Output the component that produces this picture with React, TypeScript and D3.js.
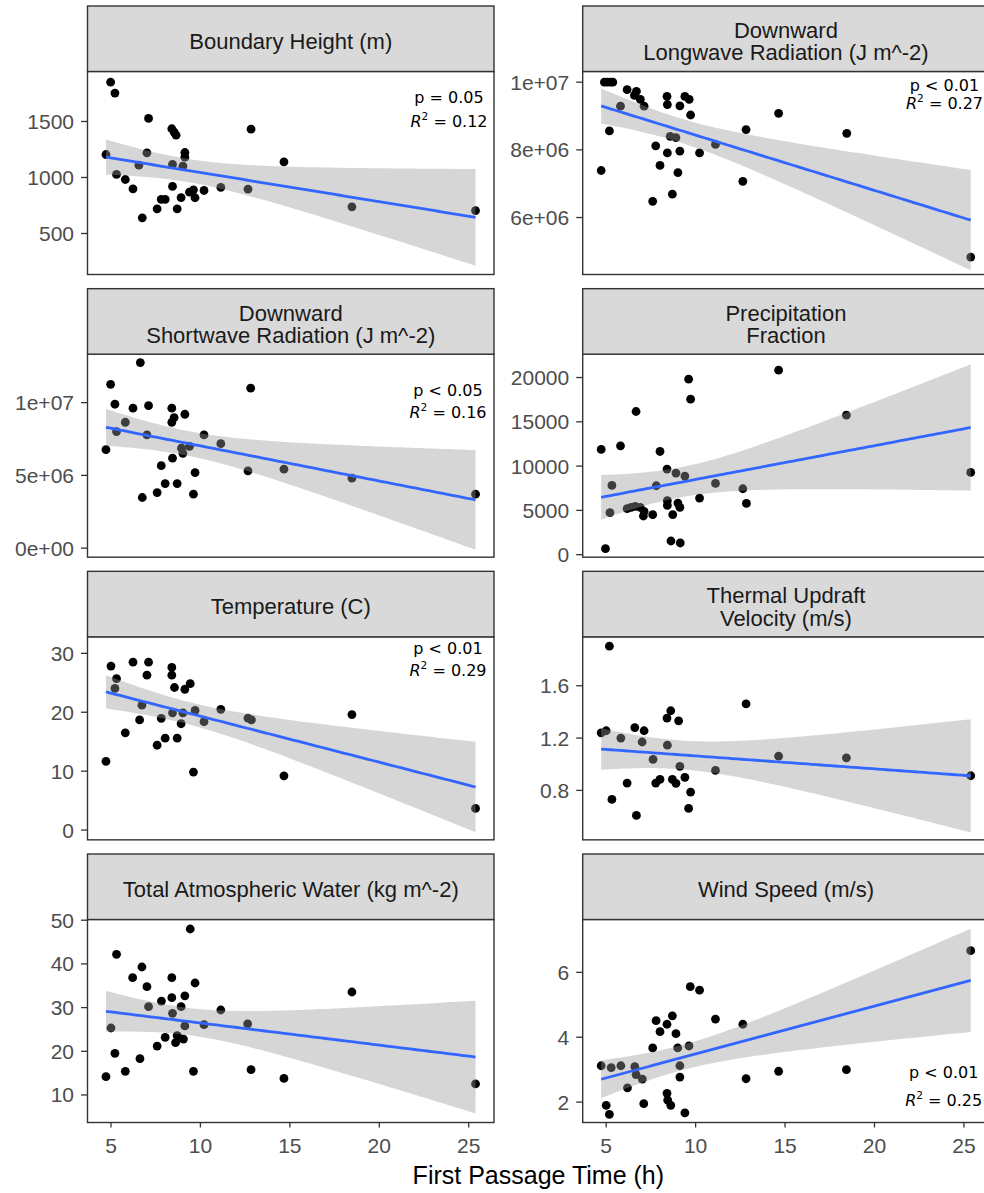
import React from "react";
import * as d3 from "d3";

type Pt = [number, number];

// First passage time (h) paired with each environmental covariate
const boundaryHeight: Pt[] = [
  [4.72, 1205], [4.98, 1851], [5.22, 1753], [5.31, 1027], [5.8, 982], [6.23, 899],
  [6.56, 1110], [6.75, 640], [7.01, 1220], [7.1, 1527], [7.58, 720], [7.81, 804],
  [8.03, 804], [8.4, 1435], [8.53, 1405], [8.64, 1378], [8.44, 1116], [8.44, 920],
  [8.7, 720], [8.92, 821], [9.02, 1101], [9.13, 1223], [9.13, 1181], [9.39, 869],
  [9.61, 890], [9.7, 819], [10.2, 884], [11.14, 911], [12.66, 896], [12.83, 1431],
  [14.67, 1140], [18.47, 738], [25.38, 705],
];

const longwave: Pt[] = [
  [4.72, 7.39e6], [4.9, 1.0e7], [5.07, 1.0e7], [5.24, 1.0e7], [5.37, 1.0e7], [5.18, 8.56e6],
  [5.8, 9.29e6], [6.17, 9.78e6], [6.58, 9.61e6], [6.69, 9.73e6], [6.91, 9.49e6], [7.12, 9.29e6],
  [7.6, 6.48e6], [7.77, 8.12e6], [8.01, 7.54e6], [8.4, 9.58e6], [8.42, 9.34e6], [8.42, 7.91e6],
  [8.58, 8.4e6], [8.7, 6.69e6], [8.9, 8.36e6], [9.01, 7.33e6], [9.12, 9.3e6], [9.12, 7.96e6],
  [9.4, 9.58e6], [9.64, 9.49e6], [9.72, 9.03e6], [10.22, 7.91e6], [11.11, 8.16e6],
  [12.64, 7.07e6], [12.82, 8.6e6], [14.64, 9.08e6], [18.45, 8.49e6], [25.38, 4.83e6],
];

const shortwave: Pt[] = [
  [4.72, 6.77e6], [4.98, 1.126e7], [5.22, 9.89e6], [5.31, 8.01e6], [5.8, 8.65e6], [6.23, 9.62e6],
  [6.64, 1.275e7], [6.75, 3.48e6], [7.01, 7.78e6], [7.1, 9.79e6], [7.58, 3.82e6], [7.81, 5.67e6],
  [8.03, 4.44e6], [8.4, 9.62e6], [8.4, 8.65e6], [8.53, 8.97e6], [8.44, 6.18e6], [8.7, 4.44e6],
  [8.94, 6.87e6], [9.02, 6.52e6], [9.13, 9.2e6], [9.39, 7.0e6], [9.61, 3.71e6], [9.7, 5.19e6],
  [10.2, 7.78e6], [11.14, 7.18e6], [12.66, 5.31e6], [12.81, 1.099e7], [14.67, 5.43e6],
  [18.47, 4.81e6], [25.38, 3.71e6],
];

const precipitation: Pt[] = [
  [4.72, 11877], [4.96, 677], [5.21, 4737], [5.32, 7816], [5.8, 12294], [6.17, 5188],
  [6.39, 5335], [6.67, 16164], [6.62, 5448], [6.9, 5335], [7.08, 4365], [7.12, 4884],
  [7.6, 4512], [7.8, 7782], [8.01, 11651], [8.4, 9666], [8.42, 6091], [8.42, 5561],
  [8.62, 1545], [8.72, 4512], [8.9, 9215], [9.01, 5831], [9.12, 5335], [9.14, 1320],
  [9.4, 8877], [9.61, 19817], [9.72, 17561], [10.22, 6395], [11.11, 8042], [12.64, 7444],
  [12.84, 5786], [14.64, 20833], [18.43, 15757], [25.38, 9283],
];

const temperature: Pt[] = [
  [4.72, 11.66], [5.0, 27.84], [5.22, 24.05], [5.31, 25.7], [5.8, 16.5], [6.23, 28.5],
  [6.6, 18.7], [6.73, 21.2], [7.01, 26.3], [7.1, 28.5], [7.58, 14.4], [7.81, 18.96],
  [8.03, 15.6], [8.4, 27.6], [8.4, 26.3], [8.44, 19.9], [8.55, 24.2], [8.7, 15.6],
  [8.92, 18.05], [9.02, 19.9], [9.13, 23.9], [9.43, 24.85], [9.61, 9.85], [9.7, 20.3],
  [10.2, 18.4], [11.14, 20.5], [12.66, 19.0], [12.85, 18.7], [14.67, 9.2], [18.47, 19.6],
  [25.38, 3.68],
];

const thermalUpdraft: Pt[] = [
  [4.72, 1.24], [5.0, 1.256], [5.18, 1.903], [5.32, 0.731], [5.82, 1.2], [6.17, 0.856],
  [6.6, 1.28], [6.69, 0.609], [7.01, 1.17], [7.12, 1.256], [7.62, 1.037], [7.77, 0.856],
  [8.01, 0.884], [8.4, 1.353], [8.42, 1.146], [8.61, 1.409], [8.7, 0.884], [8.9, 0.854],
  [9.05, 1.332], [9.12, 0.984], [9.4, 0.9], [9.61, 0.662], [9.72, 0.787], [11.11, 0.953],
  [12.82, 1.462], [14.64, 1.062], [18.43, 1.049], [25.38, 0.912],
];

const totalWater: Pt[] = [
  [4.72, 14.19], [5.0, 25.33], [5.22, 19.54], [5.31, 42.2], [5.8, 15.42], [6.21, 36.84],
  [6.62, 18.3], [6.73, 39.29], [7.01, 34.78], [7.1, 30.2], [7.58, 21.2], [7.82, 31.5],
  [8.03, 23.2], [8.4, 36.84], [8.4, 32.27], [8.44, 28.7], [8.61, 21.97], [8.7, 23.57],
  [8.79, 23.1], [8.92, 30.2], [9.05, 22.8], [9.13, 32.7], [9.13, 25.8], [9.43, 47.99],
  [9.61, 15.42], [9.7, 35.63], [10.2, 26.1], [11.14, 29.45], [12.64, 26.25], [12.83, 15.8],
  [14.67, 13.8], [18.47, 33.57], [25.38, 12.52],
];

const windSpeed: Pt[] = [
  [4.72, 3.12], [5.0, 1.9], [5.18, 1.62], [5.28, 3.06], [5.82, 3.12], [6.19, 2.44],
  [6.6, 3.09], [6.67, 2.85], [7.02, 2.71], [7.1, 1.95], [7.6, 3.67], [7.79, 4.51],
  [8.01, 4.17], [8.4, 4.4], [8.4, 2.27], [8.44, 2.06], [8.61, 1.9], [8.7, 4.66],
  [8.9, 4.11], [9.0, 3.67], [9.12, 3.12], [9.12, 2.77], [9.4, 1.67], [9.63, 3.73],
  [9.7, 5.56], [10.22, 5.45], [11.11, 4.56], [12.64, 4.4], [12.82, 2.72], [14.64, 2.95],
  [18.43, 3.0], [25.38, 6.67],
];

const facetTitles: string[][] = [
  ["Boundary Height (m)"],
  ["Downward", "Longwave Radiation (J m^-2)"],
  ["Downward", "Shortwave Radiation (J m^-2)"],
  ["Precipitation", "Fraction"],
  ["Temperature (C)"],
  ["Thermal Updraft", "Velocity (m/s)"],
  ["Total Atmospheric Water (kg m^-2)"],
  ["Wind Speed (m/s)"],
];

const facetData: Pt[][] = [
  boundaryHeight, longwave, shortwave, precipitation,
  temperature, thermalUpdraft, totalWater, windSpeed,
];

// free y scale limits of each facet
const yLimits: [number, number][] = [
  [134, 1946],
  [4.316e6, 1.0316e7],
  [-6.2e5, 1.333e7],
  [-282, 22637],
  [-1.66, 32.8],
  [0.422, 1.974],
  [3.7, 50.16],
  [1.37, 7.63],
];

const yTickValues: number[][] = [
  [500, 1000, 1500],
  [6e6, 8e6, 1e7],
  [0, 5e6, 1e7],
  [0, 5000, 10000, 15000, 20000],
  [0, 10, 20, 30],
  [0.8, 1.2, 1.6],
  [10, 20, 30, 40, 50],
  [2, 4, 6],
];

const yTickLabels: string[][] = [
  ["500", "1000", "1500"],
  ["6e+06", "8e+06", "1e+07"],
  ["0e+00", "5e+06", "1e+07"],
  ["0", "5000", "10000", "15000", "20000"],
  ["0", "10", "20", "30"],
  ["0.8", "1.2", "1.6"],
  ["10", "20", "30", "40", "50"],
  ["2", "4", "6"],
];

const xTickValues = [5, 10, 15, 20, 25];

const pLabels: (string | null)[] = [
  "p = 0.05", "p < 0.01", "p < 0.05", null, "p < 0.01", null, null, "p < 0.01",
];
const r2Labels: (string | null)[] = [
  "0.12", "0.27", "0.16", null, "0.29", null, null, "0.25",
];

// Placement of the p / R² label inside each panel: centre x, first and second baseline
const statPlacement: ([number, number, number] | null)[] = [
  [361.5, 31.8, 55.2],
  [361.8, 19.2, 37.8],
  [360.5, 41.8, 63.5],
  null,
  [360.5, 17.5, 39.2],
  null,
  null,
  [361, 158.8, 186.5],
];

// ---- layout ----
const W = 984;
const H = 1193;
const colLeft = [87.5, 582.7];
const panelW = 406.5;
const rowTop0 = 6;
const rowPitch = 282.67;
const stripH = 65.5;
const panelH = 203;

const SANS = "'Liberation Sans', Arial, sans-serif";
const ANNOT = "'DejaVu Sans', sans-serif";

// Student t quantile via Cornish-Fisher expansion around the normal quantile
function tQuantile(p: number, df: number): number {
  const z = -Math.SQRT2 * inverseErfc(2 * p);
  const z3 = z ** 3, z5 = z ** 5, z7 = z ** 7;
  return (
    z +
    (z3 + z) / (4 * df) +
    (5 * z5 + 16 * z3 + 3 * z) / (96 * df * df) +
    (3 * z7 + 19 * z5 + 17 * z3 - 15 * z) / (384 * df ** 3)
  );
}

function inverseErfc(p: number): number {
  if (p >= 2) return -100;
  if (p <= 0) return 100;
  const pp = p < 1 ? p : 2 - p;
  const t = Math.sqrt(-2 * Math.log(pp / 2));
  let x = -0.70711 * ((2.30753 + t * 0.27061) / (1 + t * (0.99229 + t * 0.04481)) - t);
  for (let j = 0; j < 2; j++) {
    const err = erfc(x) - pp;
    x += err / (1.1283791670955126 * Math.exp(-x * x) - x * err);
  }
  return p < 1 ? x : -x;
}

function erfc(x: number): number {
  const z = Math.abs(x);
  const t = 2 / (2 + z);
  const ty = 4 * t - 2;
  const cof = [
    -1.3026537197817094, 6.4196979235649026e-1, 1.9476473204185836e-2,
    -9.561514786808631e-3, -9.46595344482036e-4, 3.66839497852761e-4,
    4.2523324806907e-5, -2.0278578112534e-5, -1.624290004647e-6,
    1.30365583558e-6, 1.5626441722e-8, -8.5238095915e-8, 6.529054439e-9,
    5.059343495e-9, -9.91364156e-10, -2.27365122e-10, 9.6467911e-11,
    2.394038e-12, -6.886027e-12, 8.94487e-13, 3.13092e-13, -1.12708e-13,
    3.81e-16, 7.106e-15, -1.523e-15, -9.4e-17, 1.21e-16, -2.8e-17,
  ];
  let d = 0, dd = 0;
  for (let j = cof.length - 1; j > 0; j--) {
    const tmp = d;
    d = ty * d - dd + cof[j];
    dd = tmp;
  }
  const res = t * Math.exp(-z * z + 0.5 * (cof[0] + ty * d) - dd);
  return x >= 0 ? res : 2 - res;
}

interface FitRow { x: number; y: number; lo: number; hi: number }

// ordinary least squares with 95% confidence band for the mean
function linearFit(points: Pt[]): FitRow[] {
  const n = points.length;
  const xm = d3.mean(points, (d) => d[0]) as number;
  const ym = d3.mean(points, (d) => d[1]) as number;
  let sxx = 0, sxy = 0;
  for (const [x, y] of points) {
    sxx += (x - xm) ** 2;
    sxy += (x - xm) * (y - ym);
  }
  const slope = sxy / sxx;
  const intercept = ym - slope * xm;
  let sse = 0;
  for (const [x, y] of points) sse += (y - (intercept + slope * x)) ** 2;
  const s = Math.sqrt(sse / (n - 2));
  const t = tQuantile(0.975, n - 2);
  const [x0, x1] = d3.extent(points, (d) => d[0]) as [number, number];
  return d3.range(80).map((i) => {
    const x = x0 + ((x1 - x0) * i) / 79;
    const y = intercept + slope * x;
    const se = s * Math.sqrt(1 / n + (x - xm) ** 2 / sxx);
    return { x, y, lo: y - t * se, hi: y + t * se };
  });
}

function expand([a, b]: [number, number], f = 0.05): [number, number] {
  const r = b - a;
  return [a - r * f, b + r * f];
}

const allX = facetData.flat().map((d) => d[0]);
const xDomain = expand(d3.extent(allX) as [number, number]);

function Facet({ index }: { index: number }) {
  const col = index % 2;
  const row = Math.floor(index / 2);
  const left = colLeft[col];
  const stripTop = rowTop0 + row * rowPitch;
  const top = stripTop + stripH;
  const points = facetData[index];
  const fit = linearFit(points);

  const x = d3.scaleLinear().domain(xDomain).range([left, left + panelW]);
  const y = d3.scaleLinear().domain(yLimits[index]).range([top + panelH, top]);

  const ribbon = d3
    .area<FitRow>()
    .x((d) => x(d.x))
    .y0((d) => y(d.lo))
    .y1((d) => y(d.hi))(fit) as string;
  const line = d3
    .line<FitRow>()
    .x((d) => x(d.x))
    .y((d) => y(d.y))(fit) as string;

  const title = facetTitles[index];
  const stripMid = stripTop + stripH / 2 + 10.3;
  const bottomRow = row === 3;
  const place = statPlacement[index];
  const clipId = `panel-clip-${index}`;

  return (
    <g>
      <defs>
        <clipPath id={clipId}>
          <rect x={left} y={top} width={panelW} height={panelH} />
        </clipPath>
      </defs>
      <rect x={left} y={top} width={panelW} height={panelH} fill="#FFFFFF" />
      <g clipPath={`url(#${clipId})`}>
        {points.map((d, i) => (
          <circle key={i} cx={x(d[0])} cy={y(d[1])} r={4.4} fill="#000000" />
        ))}
        <path d={ribbon} fill="#999999" fillOpacity={0.4} />
        <path d={line} fill="none" stroke="#3366FF" strokeWidth={2.8} />
      </g>
      {place && pLabels[index] && (
        <g fontFamily={ANNOT} fontSize={16} fill="#000000" textAnchor="middle">
          <text x={left + place[0]} y={top + place[1]}>{pLabels[index]}</text>
          <text x={left + place[0]} y={top + place[2]}>
            <tspan fontStyle="italic">R</tspan>
            <tspan fontSize={10.5} dy={-7}>2</tspan>
            <tspan dy={7}>{" = " + r2Labels[index]}</tspan>
          </text>
        </g>
      )}
      <rect x={left} y={top} width={panelW} height={panelH} fill="none" stroke="#333333" strokeWidth={1.4} />

      {/* strip */}
      <rect x={left} y={stripTop} width={panelW} height={stripH} fill="#D9D9D9" stroke="#333333" strokeWidth={1.4} />
      <g fontFamily={SANS} fontSize={22} fill="#1A1A1A" textAnchor="middle">
        {title.map((t, i) => (
          <text key={i} x={left + panelW / 2} y={stripMid + (i - (title.length - 1) / 2) * 22.3}>
            {t}
          </text>
        ))}
      </g>

      {/* y axis */}
      {yTickValues[index].map((v, i) => (
        <g key={i}>
          <line x1={left - 6.5} x2={left} y1={y(v)} y2={y(v)} stroke="#333333" strokeWidth={1.3} />
          <text
            x={left - 13.5}
            y={y(v) + 7.5}
            textAnchor="end"
            fontFamily={SANS}
            fontSize={21}
            fill="#4D4D4D"
          >
            {yTickLabels[index][i]}
          </text>
        </g>
      ))}

      {/* x axis on the bottom row */}
      {bottomRow &&
        xTickValues.map((v) => (
          <g key={v}>
            <line x1={x(v)} x2={x(v)} y1={top + panelH} y2={top + panelH + 5} stroke="#333333" strokeWidth={1.3} />
            <text
              x={x(v)}
              y={top + panelH + 30.8}
              textAnchor="middle"
              fontFamily={SANS}
              fontSize={21}
              fill="#4D4D4D"
            >
              {v}
            </text>
          </g>
        ))}
    </g>
  );
}

export default function App() {
  return (
    <svg
      width={W}
      height={H}
      viewBox={`0 0 ${W} ${H}`}
      style={{ position: "absolute", left: 0, top: 0, background: "#FFFFFF" }}
    >
      <rect x={0} y={0} width={W} height={H} fill="#FFFFFF" />
      {facetData.map((_, i) => (
        <Facet key={i} index={i} />
      ))}
      <text
        x={(colLeft[0] + colLeft[1] + panelW) / 2}
        y={1184.3}
        textAnchor="middle"
        fontFamily={SANS}
        fontSize={25}
        fill="#000000"
      >
        First Passage Time (h)
      </text>
    </svg>
  );
}
